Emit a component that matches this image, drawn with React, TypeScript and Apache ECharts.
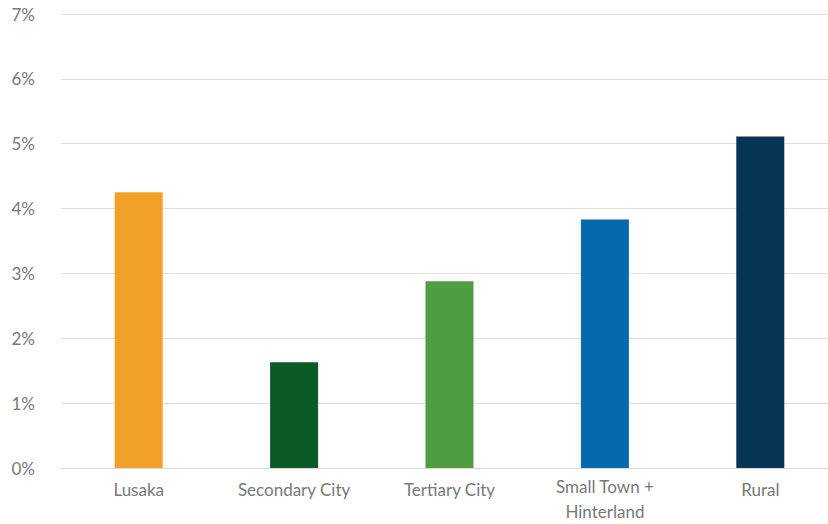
import React, { useEffect, useRef } from "react";
import * as echarts from "echarts";

const categories = ["Lusaka", "Secondary City", "Tertiary City", "Small Town +\nHinterland", "Rural"];
const values = [4.25, 1.63, 2.88, 3.83, 5.11];
const colors = ["#F0A027", "#0C5A27", "#4F9D41", "#0569AD", "#083556"];
const yTicks = [0, 1, 2, 3, 4, 5, 6, 7];

export default function App() {
  const ref = useRef<HTMLDivElement>(null);
  useEffect(() => {
    if (!ref.current) return;
    const chart = echarts.init(ref.current, null, { renderer: "svg" });
    chart.setOption({
      animation: false,
      backgroundColor: "#ffffff",
      grid: { left: 61, right: 2, top: 14, bottom: 55, containLabel: false },
      xAxis: {
        type: "category",
        data: categories.map((c) =>
          c.includes("\n") ? c : { value: c, textStyle: { padding: [3, 0, 0, 0] } }
        ),
        axisLine: { show: true, lineStyle: { color: "#d9d9d9", width: 1 } },
        axisTick: { show: false },
        axisLabel: {
          color: "#787878",
          fontFamily: "Lato",
          fontSize: 17,
          margin: 6,
          lineHeight: 25,
          interval: 0,
        },
      },
      yAxis: {
        type: "value",
        min: yTicks[0],
        max: yTicks[yTicks.length - 1],
        interval: 1,
        axisLine: { show: false },
        axisTick: { show: false },
        splitLine: { lineStyle: { color: "#dedede", width: 1 } },
        axisLabel: {
          color: "#787878",
          fontFamily: "Lato",
          fontSize: 17,
          margin: 26,
          formatter: (v: number) => `${v}%`,
        },
      },
      series: [
        {
          type: "bar",
          data: values.map((v, i) => ({ value: v, itemStyle: { color: colors[i] } })),
          barWidth: 48,
        },
      ],
    });
    return () => chart.dispose();
  }, []);
  return (
    <div style={{ position: "absolute", left: 0, top: 0, width: 828, height: 524, overflow: "hidden" }}>
      <div ref={ref} style={{ width: 840, height: 524 }} />
    </div>
  );
}
